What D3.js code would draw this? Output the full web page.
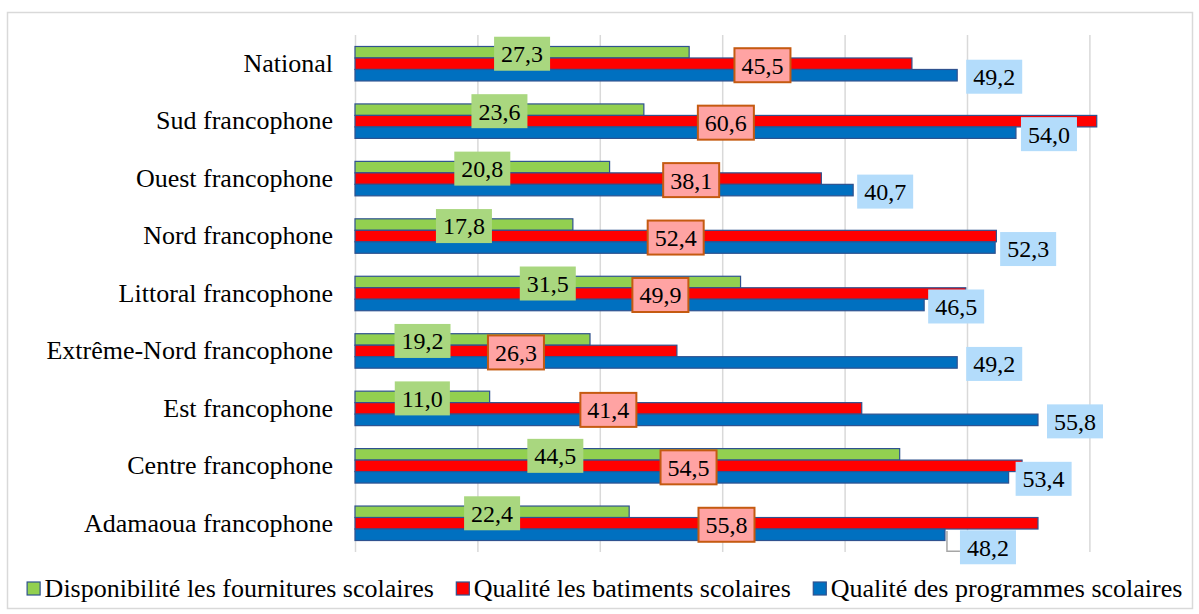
<!DOCTYPE html>
<html lang="fr">
<head>
<meta charset="utf-8">
<script src="https://cdn.jsdelivr.net/npm/d3@7"></script>
<style>
  html, body { margin: 0; padding: 0; background: #ffffff; }
  svg { display: block; }
</style>
</head>
<body>
<div id="grafico"></div>
<script>
// Categories, top to bottom
const CATEGORIES = [
  'National',
  'Sud francophone',
  'Ouest francophone',
  'Nord francophone',
  'Littoral francophone',
  'Extrême-Nord francophone',
  'Est francophone',
  'Centre francophone',
  'Adamaoua francophone'
]

const SERIES = [
  'Disponibilité les fournitures scolaires',
  'Qualité les batiments scolaires',
  'Qualité des programmes scolaires'
]

const FOURNITURES = [27.3, 23.6, 20.8, 17.8, 31.5, 19.2, 11.0, 44.5, 22.4]
const BATIMENTS = [45.5, 60.6, 38.1, 52.4, 49.9, 26.3, 41.4, 54.5, 55.8]
const PROGRAMMES = [49.2, 54.0, 40.7, 52.3, 46.5, 49.2, 55.8, 53.4, 48.2]

const X_TICKS = [0, 10, 20, 30, 40, 50, 60]

// Chart characteristics
const WIDTH = 1199
const HEIGHT = 614
const PLOT = { left: 355, right: 1089.4, top: 35, bottom: 552 }
const FONT = "'Liberation Serif', 'Times New Roman', serif"
const BAR_COLORS = ['#92d050', '#ff0000', '#0070c0']
const BAR_STROKE = '#2f528f'
const GRID_COLOR = '#d9d9d9'

// Style of the data label boxes, one per series
const LABEL_STYLE = [
  { fill: '#a9d77f', stroke: 'none' },
  { fill: '#ffa3a3', stroke: '#c55a11' },
  { fill: '#b3dcfb', stroke: 'none' }
]

// Manual nudges (pixels) of labels that were dragged in the original chart
const LABEL_NUDGE = [
  { 'Extrême-Nord francophone': [-50, 0], 'Centre francophone': [-72, 0] },
  { National: [129, 0], 'Ouest francophone': [103, 0], 'Adamaoua francophone': [30, 0] },
  { 'Sud francophone': [-4, 0], 'Ouest francophone': [-5, 0], 'Nord francophone': [-4, 0], 'Littoral francophone': [-5, 0], 'Centre francophone': [-2, 0], 'Adamaoua francophone': [6, 11] }
]

const VALUES = [FOURNITURES, BATIMENTS, PROGRAMMES]

const svg = d3.select('#grafico')
  .append('svg')
  .attr('width', WIDTH)
  .attr('height', HEIGHT)
  .attr('font-family', FONT)

// Chart frame
svg.append('rect')
  .attr('x', 7.5)
  .attr('y', 12.5)
  .attr('width', 1185)
  .attr('height', 596)
  .attr('fill', '#ffffff')
  .attr('stroke', GRID_COLOR)
  .attr('stroke-width', 1.5)

const x = d3.scaleLinear()
  .domain([0, 60])
  .range([PLOT.left, PLOT.right])

const y = d3.scaleBand()
  .domain(CATEGORIES)
  .range([PLOT.top, PLOT.bottom])
  .paddingInner(0.4)
  .paddingOuter(0.2)

const ySub = d3.scaleBand()
  .domain(d3.range(SERIES.length))
  .range([0, y.bandwidth()])

// Vertical gridlines (no tick labels in the original)
svg.append('g')
  .attr('transform', `translate(0,${PLOT.bottom})`)
  .call(d3.axisBottom(x).tickValues(X_TICKS).tickSize(-(PLOT.bottom - PLOT.top)).tickFormat(''))
  .call(g => g.select('.domain').remove())
  .call(g => g.selectAll('.tick line').attr('stroke', GRID_COLOR).attr('stroke-width', 1.5))

// Category axis
svg.append('g')
  .attr('transform', `translate(${PLOT.left},0)`)
  .call(d3.axisLeft(y).tickSize(0).tickPadding(22))
  .call(g => g.select('.domain').remove())
  .call(g => g.selectAll('.tick text')
    .attr('font-family', FONT)
    .attr('font-size', '26px')
    .attr('fill', '#000000')
    .attr('dy', '0.32em'))

// Bars
const groups = svg.append('g')
  .selectAll('g')
  .data(SERIES)
  .join('g')
  .attr('fill', (d, i) => BAR_COLORS[i])

groups.each(function (s, si) {
  d3.select(this).selectAll('rect')
    .data(CATEGORIES.map((c, ci) => ({ c, v: VALUES[si][ci] })))
    .join('rect')
    .attr('x', x(0))
    .attr('y', d => y(d.c) + ySub(si))
    .attr('width', d => x(d.v) - x(0))
    .attr('height', ySub.bandwidth())
    .attr('stroke', BAR_STROKE)
    .attr('stroke-width', 1.2)
})

// Data labels
const fmt = v => d3.format('.1f')(v).replace('.', ',')
const BOX_H = 34
const labels = svg.append('g')

SERIES.forEach((s, si) => {
  CATEGORIES.forEach((c, ci) => {
    const v = VALUES[si][ci]
    const nudge = LABEL_NUDGE[si][c] || [0, 0]
    const cy = y(c) + ySub(si) + ySub.bandwidth() / 2 + 1.5 + nudge[1]
    const g = labels.append('g')
    const box = g.append('rect')
    const t = g.append('text')
      .attr('font-family', FONT)
      .attr('font-size', '24px')
      .attr('text-anchor', 'middle')
      .attr('dy', '0.35em')
      .attr('fill', '#000000')
      .text(fmt(v))
    const w = t.node().getComputedTextLength() + 14
    // green and red: centred on the bar, blue: just past the bar end
    const cx = si === 2
      ? x(v) + 9 + w / 2 + nudge[0]
      : (x(0) + x(v)) / 2 + nudge[0]
    t.attr('x', cx).attr('y', cy)
    box.attr('x', cx - w / 2)
      .attr('y', cy - BOX_H / 2)
      .attr('width', w)
      .attr('height', BOX_H)
      .attr('fill', LABEL_STYLE[si].fill)
      .attr('stroke', LABEL_STYLE[si].stroke)
      .attr('stroke-width', 2)

    // leader line when the label sits away from its bar
    if (si === 2 && nudge[1] > 0) {
      const barY = y(c) + ySub(si) + 2
      const lineY = cy + 4
      g.insert('path', 'rect')
        .attr('d', `M${x(v) + 2},${barY} L${x(v) + 2},${lineY} L${cx - w / 2},${lineY}`)
        .attr('fill', 'none')
        .attr('stroke', '#a6a6a6')
        .attr('stroke-width', 1.5)
    }
  })
})

// Legend
const legend = svg.append('g')
let lx = 0
SERIES.forEach((s, i) => {
  const item = legend.append('g').attr('transform', `translate(${lx},0)`)
  item.append('rect')
    .attr('x', 0.5)
    .attr('y', -7)
    .attr('width', 13)
    .attr('height', 13)
    .attr('fill', BAR_COLORS[i])
    .attr('stroke', BAR_STROKE)
    .attr('stroke-width', 1.2)
  const t = item.append('text')
    .attr('x', 18)
    .attr('y', 0)
    .attr('dy', '0.32em')
    .attr('font-family', FONT)
    .attr('font-size', '26px')
    .attr('fill', '#000000')
    .text(s)
  lx += 18 + t.node().getComputedTextLength() + 22
})
const legendW = lx - 22
legend.attr('transform', `translate(${604.5 - legendW / 2},589)`)
</script>
</body>
</html>
